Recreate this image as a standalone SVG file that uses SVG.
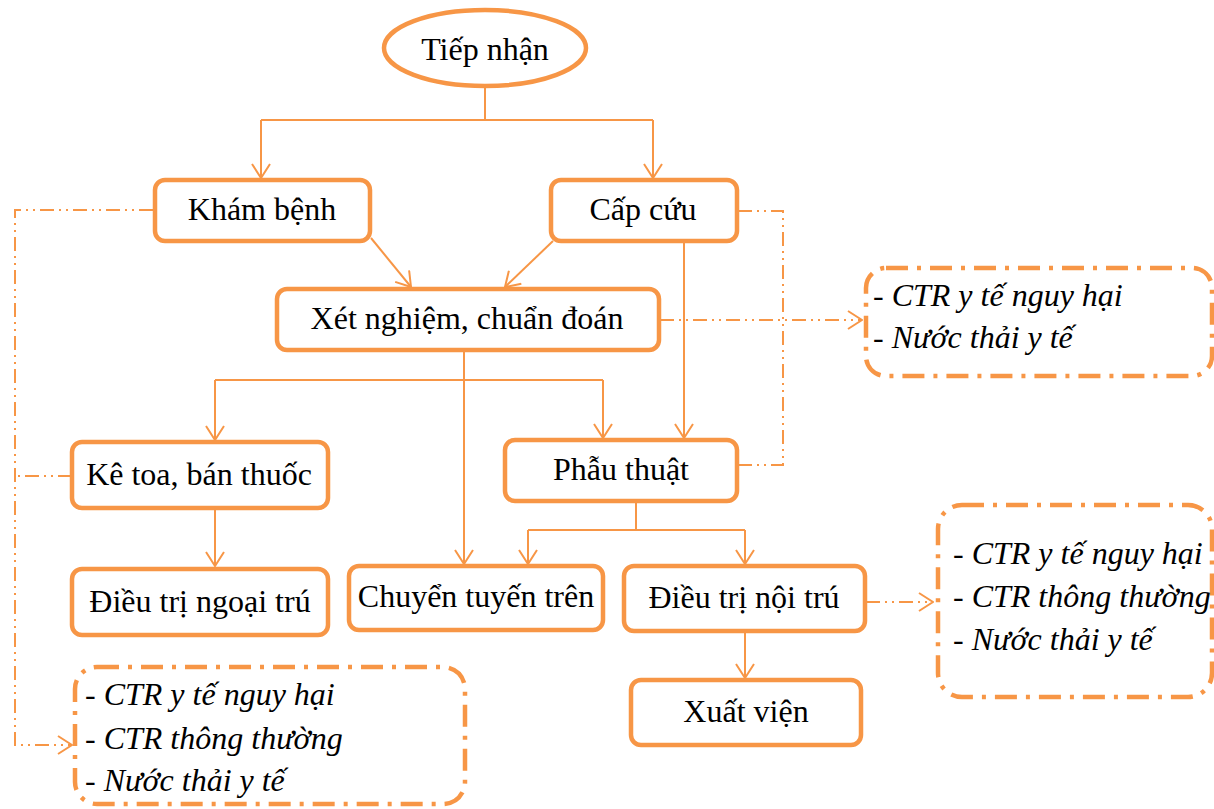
<svg xmlns="http://www.w3.org/2000/svg" width="1214" height="809" viewBox="0 0 1214 809">
<defs>
<marker id="arr" markerUnits="userSpaceOnUse" viewBox="0 0 16 20" refX="15" refY="10" markerWidth="16" markerHeight="20" orient="auto">
<path d="M1,1 L15,10 L1,19" fill="none" stroke="#F79646" stroke-width="2"/>
</marker>
</defs>
<style>
.box{fill:#fff;stroke:#F79646;stroke-width:4.5}
.lbl{font-size:32px;fill:#000;text-anchor:middle}
.it{font-size:32px;fill:#000;font-style:italic}
.it tspan.d{font-style:normal}
.ln{fill:none;stroke:#F79646;stroke-width:2}
.dd{fill:none;stroke:#F79646;stroke-width:2;stroke-dasharray:14 5 2 5 2 5}
.db{fill:none;stroke:#F79646;stroke-width:4.5;stroke-dasharray:22 9 4 9}
</style>
<rect width="1214" height="809" fill="#fff"/>
<g id="connectors">
<path class="ln" d="M485,86 V120"/>
<path class="ln" d="M261,120 H653"/>
<path class="ln" d="M261,120 V178" marker-end="url(#arr)"/>
<path class="ln" d="M653,120 V178" marker-end="url(#arr)"/>
<path class="ln" d="M371,238 L411,287" marker-end="url(#arr)"/>
<path class="ln" d="M553,241 L505,287" marker-end="url(#arr)"/>
<path class="ln" d="M684,242 V438" marker-end="url(#arr)"/>
<path class="ln" d="M464,351 V564" marker-end="url(#arr)"/>
<path class="ln" d="M215,380 H603"/>
<path class="ln" d="M215,380 V440" marker-end="url(#arr)"/>
<path class="ln" d="M603,380 V438" marker-end="url(#arr)"/>
<path class="ln" d="M215,510 V566" marker-end="url(#arr)"/>
<path class="ln" d="M636,503 V530"/>
<path class="ln" d="M528,530 H745"/>
<path class="ln" d="M528,530 V564" marker-end="url(#arr)"/>
<path class="ln" d="M745,530 V564" marker-end="url(#arr)"/>
<path class="ln" d="M745,633 V678" marker-end="url(#arr)"/>
<path class="dd" d="M153,210 H15 V745 H72" marker-end="url(#arr)"/>
<path class="dd" d="M72,476 H15"/>
<path class="dd" d="M738,211 H783 V465 H738"/>
<path class="dd" d="M660,320 H862" marker-end="url(#arr)"/>
<path class="dd" d="M866,602 H933" marker-end="url(#arr)"/>
</g>
<g font-family="'Liberation Serif', 'DejaVu Serif', 'Times New Roman', serif">
<g id="tiep-nhan">
<ellipse class="box" cx="485" cy="48" rx="101" ry="38"/>
<text class="lbl" x="485" y="60">Tiếp nhận</text>
</g>
<g id="kham-benh">
<rect class="box" x="155" y="180" width="215" height="61" rx="10"/>
<text class="lbl" x="262" y="220">Khám bệnh</text>
</g>
<g id="cap-cuu">
<rect class="box" x="551" y="180" width="186" height="61" rx="10"/>
<text class="lbl" x="643" y="220">Cấp cứu</text>
</g>
<g id="xet-nghiem">
<rect class="box" x="277" y="289" width="382" height="61" rx="10"/>
<text class="lbl" x="467" y="329">Xét nghiệm, chuẩn đoán</text>
</g>
<g id="ke-toa">
<rect class="box" x="72" y="442" width="256" height="66" rx="10"/>
<text class="lbl" x="199" y="485">Kê toa, bán thuốc</text>
</g>
<g id="phau-thuat">
<rect class="box" x="505" y="440" width="232" height="61" rx="10"/>
<text class="lbl" x="621" y="480">Phẫu thuật</text>
</g>
<g id="ngoai-tru">
<rect class="box" x="72" y="569" width="256" height="66" rx="10"/>
<text class="lbl" x="200" y="612">Điều trị ngoại trú</text>
</g>
<g id="chuyen-tuyen">
<rect class="box" x="349" y="566" width="254" height="64" rx="10"/>
<text class="lbl" x="476" y="607">Chuyển tuyến trên</text>
</g>
<g id="noi-tru">
<rect class="box" x="624" y="566" width="241" height="65" rx="10"/>
<text class="lbl" x="744" y="608">Điều trị nội trú</text>
</g>
<g id="xuat-vien">
<rect class="box" x="631" y="680" width="230" height="65" rx="10"/>
<text class="lbl" x="746" y="722">Xuất viện</text>
</g>
<g id="chat-thai-1">
<rect class="db" x="866" y="268" width="346" height="108" rx="20"/>
<text class="it" x="873" y="306"><tspan class="d">- </tspan>CTR y tế nguy hại</text>
<text class="it" x="873" y="348"><tspan class="d">- </tspan>Nước thải y tế</text>
</g>
<g id="chat-thai-2">
<rect class="db" x="938" y="505" width="274" height="192" rx="24"/>
<text class="it" x="953" y="564"><tspan class="d">- </tspan>CTR y tế nguy hại</text>
<text class="it" x="953" y="607"><tspan class="d">- </tspan>CTR thông thường</text>
<text class="it" x="953" y="650"><tspan class="d">- </tspan>Nước thải y tế</text>
</g>
<g id="chat-thai-3">
<rect class="db" x="75" y="667" width="390" height="137" rx="22"/>
<text class="it" x="85" y="705"><tspan class="d">- </tspan>CTR y tế nguy hại</text>
<text class="it" x="85" y="749"><tspan class="d">- </tspan>CTR thông thường</text>
<text class="it" x="85" y="791"><tspan class="d">- </tspan>Nước thải y tế</text>
</g>
</g>
</svg>
